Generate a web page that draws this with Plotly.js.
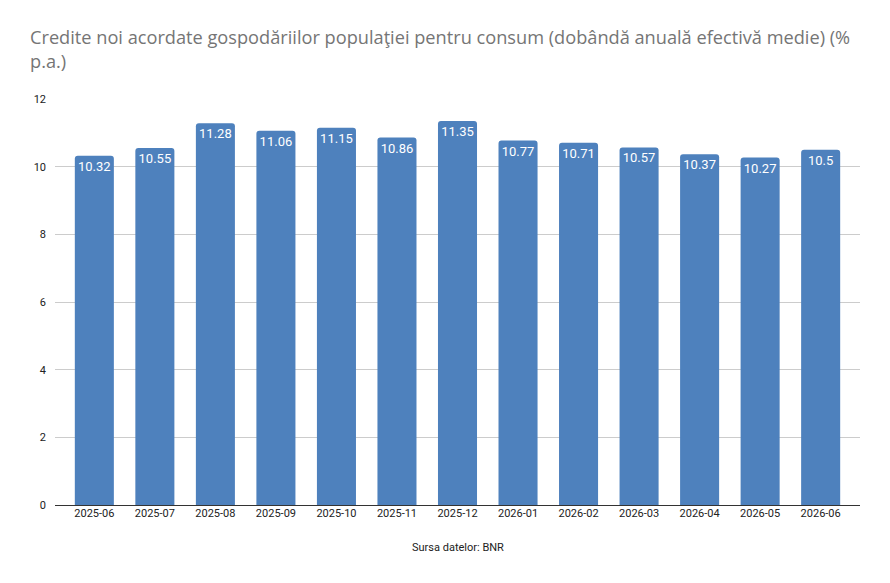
<!DOCTYPE html>
<html>
<head>
<meta charset="utf-8">
<script src="https://cdn.plot.ly/plotly-3.0.1.min.js"></script>
<style>
  body { margin: 0; background: #fff; }
  #chart { width: 890px; height: 583px; }
</style>
</head>
<body>
<div id="chart"></div>
<script>
var months = ['2025-06', '2025-07', '2025-08', '2025-09', '2025-10', '2025-11', '2025-12',
              '2026-01', '2026-02', '2026-03', '2026-04', '2026-05', '2026-06'];
var rates = [10.32, 10.55, 11.28, 11.06, 11.15, 10.86, 11.35, 10.77, 10.71, 10.57, 10.37, 10.27, 10.5];
var yTicks = [0, 2, 4, 6, 8, 10, 12];

var trace = {
    type: 'bar',
    x: months,
    y: rates,
    text: rates.map(String),
    textposition: 'inside',
    insidetextanchor: 'end',
    textangle: 0,
    textfont: { color: '#ffffff', size: 13, family: 'Roboto, sans-serif' },
    marker: { color: '#4e81bd', cornerradius: 3 },
    hoverinfo: 'x+y'
};

var layout = {
    width: 890,
    height: 583,
    margin: { l: 55, r: 30, t: 99, b: 78 },
    paper_bgcolor: '#ffffff',
    plot_bgcolor: '#ffffff',
    bargap: 0.355,
    showlegend: false,
    font: { family: 'Roboto, sans-serif', color: '#222222', size: 11 },
    title: {
        text: 'Credite noi acordate gospodăriilor populaţiei pentru consum (dobândă anuală efectivă medie) (%<br>p.a.)',
        x: 0, xref: 'paper', xanchor: 'left',
        y: 0.924, yanchor: 'top',
        pad: { l: -25 },
        font: { family: '"Open Sans", sans-serif', size: 18.2, color: '#757575' }
    },
    xaxis: {
        type: 'category',
        range: [-0.65, 12.65],
        showgrid: false,
        ticks: '',
        tickfont: { size: 11, color: '#222222' },
        showline: false,
        fixedrange: true
    },
    yaxis: {
        range: [0, 12],
        tickvals: yTicks,
        ticktext: yTicks.map(String),
        showgrid: true,
        gridcolor: '#cccccc',
        gridwidth: 1,
        zeroline: true,
        zerolinecolor: '#333333',
        zerolinewidth: 1,
        ticks: '',
        ticklabelstandoff: 8,
        tickfont: { size: 11, color: '#222222' },
        fixedrange: true
    },
    annotations: [{
        text: 'Sursa datelor: BNR',
        xref: 'paper', yref: 'paper',
        x: 0.5, y: -0.105,
        xanchor: 'center', yanchor: 'middle',
        showarrow: false,
        font: { size: 11, color: '#222222' }
    }]
};

Plotly.newPlot('chart', [trace], layout, { displayModeBar: false, staticPlot: true });
</script>
</body>
</html>
